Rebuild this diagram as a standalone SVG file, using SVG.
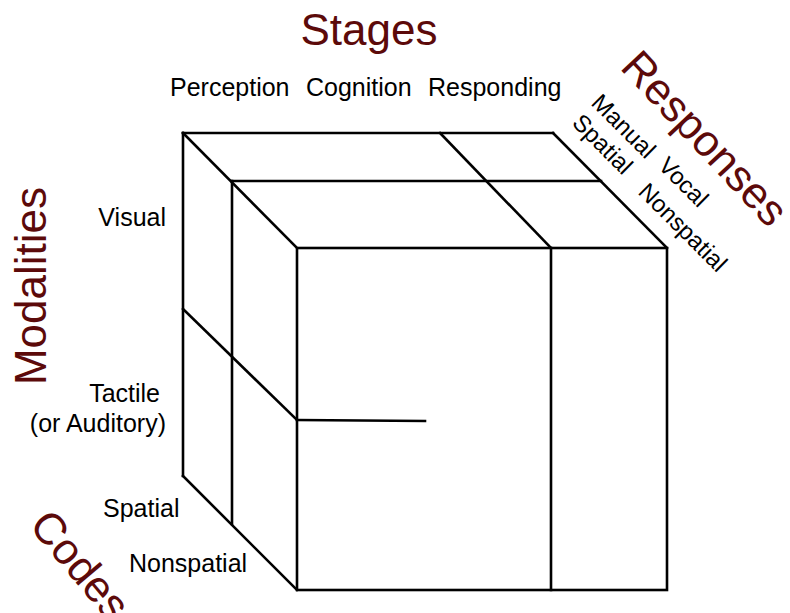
<svg xmlns="http://www.w3.org/2000/svg" width="790" height="613" viewBox="0 0 790 613">
<style>
.ln{stroke:#000;stroke-width:2.6;fill:none;stroke-linecap:square}
.t{font-family:"Liberation Sans",Arial,sans-serif;font-size:25px;fill:#000}
.s{font-family:"Liberation Sans",Arial,sans-serif;font-size:24px;fill:#000}
.h{font-family:"Liberation Sans",Arial,sans-serif;font-size:44px;fill:#5c0a0a}
</style>
<rect width="790" height="613" fill="#fff"/>
<g id="cube" class="ln">
<line x1="183" y1="133" x2="553" y2="133"/>
<line x1="183" y1="133" x2="183" y2="476"/>
<line x1="183" y1="133" x2="297" y2="248"/>
<line x1="553" y1="133" x2="667" y2="248"/>
<line x1="183" y1="476" x2="297" y2="590"/>
<rect x="297" y="248" width="370" height="342"/>
<line x1="232" y1="181" x2="601" y2="181"/>
<line x1="232" y1="181" x2="232" y2="524"/>
<line x1="440" y1="133" x2="551" y2="248"/>
<line x1="551" y1="248" x2="551" y2="590"/>
<line x1="183" y1="309" x2="297" y2="420"/>
<line x1="297" y1="420" x2="425" y2="421"/>
</g>
<g id="stages">
<text class="h" x="369" y="45" text-anchor="middle">Stages</text>
<text class="t" x="170" y="96">Perception</text>
<text class="t" x="306" y="96">Cognition</text>
<text class="t" x="428" y="96">Responding</text>
</g>
<g id="modalities">
<text class="h" transform="translate(46,286) rotate(-90)" text-anchor="middle">Modalities</text>
<text class="t" x="166" y="226" text-anchor="end">Visual</text>
<text class="t" x="160" y="402" text-anchor="end">Tactile</text>
<text class="t" x="166" y="432" text-anchor="end">(or Auditory)</text>
</g>
<g id="codes">
<text class="h" transform="translate(28,526) rotate(50)">Codes</text>
<text class="t" x="103" y="517">Spatial</text>
<text class="t" x="129" y="572">Nonspatial</text>
</g>
<g id="responses">
<text class="h" transform="translate(619,68) rotate(47)">Responses</text>
<text class="s" transform="translate(590,104) rotate(45)">Manual</text>
<text class="s" transform="translate(657,167) rotate(45)">Vocal</text>
<text class="s" transform="translate(571,124) rotate(45)">Spatial</text>
<text class="s" transform="translate(637,193) rotate(45)">Nonspatial</text>
</g>
</svg>
